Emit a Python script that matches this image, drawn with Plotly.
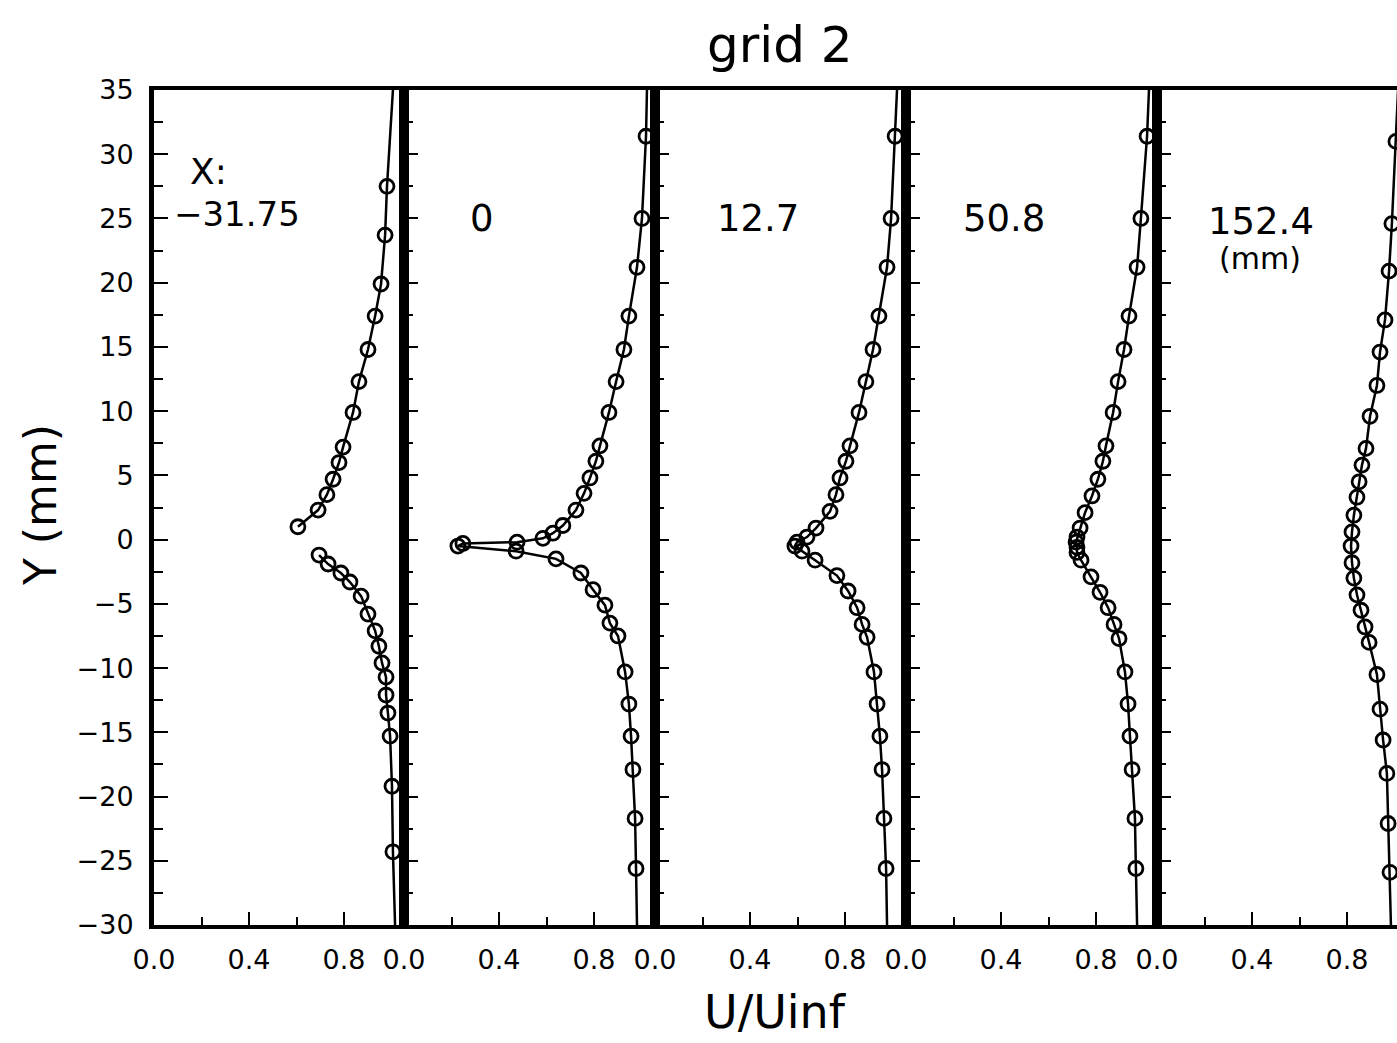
import plotly.graph_objects as go

FONT = "DejaVu Sans"

stations = ["\u221231.75", "0", "12.7", "50.8", "152.4"]

# panel 1 (X = -31.75 mm): two separate branches
p1_upper_u = [0.981, 0.973, 0.956, 0.931, 0.901, 0.863, 0.838, 0.796, 0.779, 0.754, 0.728, 0.691, 0.606]
p1_upper_y = [27.5, 23.7, 19.9, 17.4, 14.8, 12.3, 9.9, 7.2, 6.0, 4.7, 3.5, 2.3, 1.0]
p1_lower_u = [0.695, 0.733, 0.787, 0.825, 0.872, 0.901, 0.931, 0.947, 0.960, 0.977, 0.977, 0.985, 0.994, 1.002, 1.006]
p1_lower_y = [-1.2, -1.9, -2.6, -3.3, -4.4, -5.8, -7.1, -8.3, -9.6, -10.7, -12.1, -13.5, -15.3, -19.2, -24.3]

p2_u = [1.019, 1.002, 0.981, 0.947, 0.926, 0.893, 0.863, 0.825, 0.808, 0.783, 0.758, 0.724, 0.669, 0.627, 0.585,
        0.476, 0.248, 0.227, 0.472, 0.640, 0.745, 0.796, 0.846, 0.867, 0.901, 0.931, 0.947, 0.956, 0.964, 0.973, 0.977]
p2_y = [31.4, 25.0, 21.2, 17.4, 14.8, 12.3, 9.9, 7.3, 6.1, 4.8, 3.6, 2.3, 1.1, 0.5, 0.1,
        -0.2, -0.3, -0.5, -0.9, -1.5, -2.6, -3.9, -5.1, -6.5, -7.5, -10.3, -12.8, -15.3, -17.9, -21.7, -25.6]

p3_u = [1.011, 0.994, 0.977, 0.943, 0.918, 0.888, 0.859, 0.821, 0.804, 0.779, 0.762, 0.737, 0.678, 0.640, 0.598,
        0.589, 0.619, 0.674, 0.766, 0.813, 0.851, 0.872, 0.893, 0.922, 0.935, 0.947, 0.956, 0.964, 0.973]
p3_y = [31.4, 25.0, 21.2, 17.4, 14.8, 12.3, 9.9, 7.3, 6.1, 4.8, 3.5, 2.2, 0.9, 0.2, -0.2,
        -0.5, -0.9, -1.6, -2.8, -4.0, -5.3, -6.6, -7.6, -10.3, -12.8, -15.3, -17.9, -21.7, -25.6]

p4_u = [1.015, 0.989, 0.973, 0.939, 0.918, 0.893, 0.872, 0.842, 0.829, 0.808, 0.783, 0.754, 0.733, 0.720, 0.716,
        0.720, 0.720, 0.737, 0.779, 0.817, 0.851, 0.876, 0.897, 0.922, 0.935, 0.943, 0.952, 0.964, 0.968]
p4_y = [31.4, 25.0, 21.2, 17.4, 14.8, 12.3, 9.9, 7.3, 6.1, 4.7, 3.4, 2.1, 0.9, 0.2, -0.2,
        -0.6, -1.0, -1.6, -2.9, -4.1, -5.3, -6.6, -7.7, -10.3, -12.8, -15.3, -17.9, -21.7, -25.6]

p5_u = [1.006, 0.989, 0.977, 0.960, 0.939, 0.926, 0.897, 0.880, 0.863, 0.851, 0.842, 0.829, 0.821,
        0.817, 0.821, 0.829, 0.842, 0.859, 0.876, 0.893, 0.926, 0.939, 0.952, 0.968, 0.973, 0.981]
p5_y = [31.0, 24.6, 20.9, 17.1, 14.6, 12.0, 9.6, 7.1, 5.8, 4.5, 3.3, 1.9, 0.6,
        -0.5, -1.8, -3.0, -4.3, -5.5, -6.8, -8.0, -10.5, -13.2, -15.6, -18.2, -22.1, -25.9]

# fitted curve continued to the top (Y=35) and bottom (Y=-30) of each panel
fit_top_u = [1.006, 1.023, 1.019, 1.023, 1.015]
fit_bottom_u = [1.015, 0.981, 0.977, 0.973, 0.985]
y_top, y_bottom = 35, -30

y_ticks = list(range(-30, 36, 5))
x_ticks = [0.0, 0.4, 0.8]
x_minor = [0.2, 0.6]

# ---------------- layout geometry ----------------
W, H = 1397, 1043
M_T, M_B = 90, 118
PW, PH = W, H - M_T - M_B
edges = [154, 404, 655, 906, 1157, 1397]
PX_PER_U = 237.5


def pxx(px):
    return px / PW


def pxy(py):
    return (H - M_B - py) / PH


fig = go.Figure()

line_style = dict(color="black", width=2.5)
marker_style = dict(symbol="circle-open", size=14, color="black", line=dict(color="black", width=2.8))

segments = [
    (1, [fit_top_u[0]] + p1_upper_u, [y_top] + p1_upper_y, p1_upper_u, p1_upper_y),
    (1, p1_lower_u + [fit_bottom_u[0]], p1_lower_y + [y_bottom], p1_lower_u, p1_lower_y),
]
for i, (u, y) in enumerate([(p2_u, p2_y), (p3_u, p3_y), (p4_u, p4_y), (p5_u, p5_y)], start=2):
    segments.append((i, [fit_top_u[i - 1]] + u + [fit_bottom_u[i - 1]], [y_top] + y + [y_bottom], u, y))

for k, lu, ly, mu, my in segments:
    xa = "x" if k == 1 else f"x{k}"
    ya = "y" if k == 1 else f"y{k}"
    fig.add_trace(go.Scatter(x=lu, y=ly, mode="lines", line=line_style, xaxis=xa, yaxis=ya,
                             showlegend=False, hoverinfo="skip", cliponaxis=True))
    fig.add_trace(go.Scatter(x=mu, y=my, mode="markers", marker=marker_style, xaxis=xa, yaxis=ya,
                             showlegend=False, cliponaxis=False))

tickfont = dict(family=FONT, size=27, color="black")
for k in range(1, 6):
    left, right = edges[k - 1], edges[k]
    xname = "xaxis" if k == 1 else f"xaxis{k}"
    yname = "yaxis" if k == 1 else f"yaxis{k}"
    fig.layout[xname] = dict(
        domain=[pxx(left), pxx(right)],
        range=[0, (right - left) / PX_PER_U],
        anchor="y" if k == 1 else f"y{k}",
        showgrid=False, zeroline=False,
        showline=True, linecolor="black", linewidth=4, mirror=True,
        ticks="inside", ticklen=13, tickwidth=2, tickcolor="black",
        tickvals=x_ticks, ticktext=[f"{v:.1f}" for v in x_ticks],
        tickfont=tickfont, ticklabelstandoff=8,
        minor=dict(tickvals=x_minor, ticks="inside", ticklen=8, tickwidth=2, tickcolor="black"),
        fixedrange=True,
    )
    fig.layout[yname] = dict(
        domain=[0, 1],
        range=[y_bottom, y_top],
        anchor="x" if k == 1 else f"x{k}",
        showgrid=False, zeroline=False,
        showline=True, linecolor="black", linewidth=5, mirror=(k < 5),
        ticks="inside", ticklen=14, tickwidth=2, tickcolor="black",
        tickvals=y_ticks,
        showticklabels=(k == 1),
        tickfont=tickfont, ticklabelstandoff=10,
        minor=dict(dtick=2.5, tick0=0, ticks="inside", ticklen=9, tickwidth=2, tickcolor="black"),
        fixedrange=True,
    )

ann = []


def text(s, px, py, size, xanchor="center"):
    ann.append(dict(text=s, x=pxx(px), y=pxy(py), xref="paper", yref="paper",
                    xanchor=xanchor, yanchor="middle", showarrow=False,
                    font=dict(family=FONT, size=size, color="black")))


text("grid 2", 780, 45, 50)
text("U/Uinf", 775, 1012, 46)
ann.append(dict(text="Y (mm)", x=pxx(40), y=pxy(505), xref="paper", yref="paper",
                xanchor="center", yanchor="middle", showarrow=False, textangle=-90,
                font=dict(family=FONT, size=44, color="black")))
text("X:", 188, 171, 36, xanchor="left")
text(stations[0], 237, 214, 34)
text(stations[1], 482, 219, 37)
text(stations[2], 758, 219, 37)
text(stations[3], 1004, 219, 37)
text(stations[4], 1261, 222, 37)
text("(mm)", 1260, 258, 30)

fig.update_layout(
    width=W, height=H,
    margin=dict(l=0, r=0, t=M_T, b=M_B, autoexpand=False),
    paper_bgcolor="white", plot_bgcolor="white",
    annotations=ann,
    showlegend=False,
)

fig.write_html("out.html")
